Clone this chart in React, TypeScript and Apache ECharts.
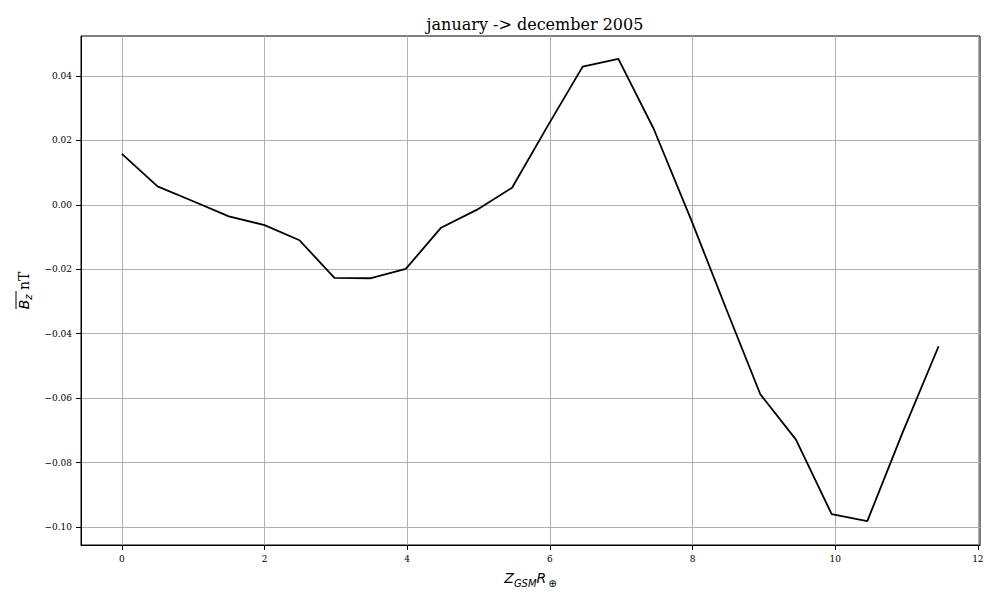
import { useEffect, useRef } from "react";
import * as echarts from "echarts";

// Z_GSM positions (R_E) and mean Bz (nT)
const zPos = [0, 0.5, 1.0, 1.5, 2.0, 2.49, 2.98, 3.48, 3.98, 4.475, 4.98, 5.47, 5.97, 6.46, 6.96, 7.455, 7.98, 8.47, 8.95, 9.45, 9.95, 10.45, 10.95, 11.45];
const bzMean = [0.0158, 0.0057, 0.0011, -0.0036, -0.0063, -0.011, -0.0227, -0.0228, -0.0199, -0.0071, -0.0015, 0.0053, 0.0245, 0.0429, 0.0453, 0.0236, -0.0046, -0.0322, -0.0588, -0.0729, -0.096, -0.0982, -0.0704, -0.0439];

const xTicks = [0, 2, 4, 6, 8, 10, 12];
const yTicks = [-0.1, -0.08, -0.06, -0.04, -0.02, 0, 0.02, 0.04];

const SERIF = "DejaVu Serif";
const SANS = "DejaVu Sans";
const GRID = "#b0b0b0";

export default function App() {
  const ref = useRef<HTMLDivElement>(null);

  useEffect(() => {
    if (!ref.current) return;
    const chart = echarts.init(ref.current, null, { renderer: "svg" });

    chart.setOption({
      animation: false,
      backgroundColor: "#ffffff",
      title: {
        text: "january -> december 2005",
        left: 530, top: 11, textAlign: "center",
        textStyle: { fontFamily: SERIF, fontSize: 16, fontWeight: "normal", color: "#000" },
      },
      grid: {
        left: 81, right: 20, top: 36, bottom: 55,
        show: true, borderColor: "#000", borderWidth: 1, backgroundColor: "transparent",
      },
      xAxis: {
        type: "value", min: -0.573, max: 12.03,
        name: "{z|Z}{s|GSM}{z|R}{o|⊕}",
        nameLocation: "middle", nameGap: 22,
        nameTextStyle: {
          rich: {
            z: { fontFamily: SANS, fontStyle: "italic", fontSize: 14, color: "#000", lineHeight: 18, verticalAlign: "bottom" },
            s: { fontFamily: SANS, fontStyle: "italic", fontSize: 10, color: "#000", lineHeight: 18, verticalAlign: "bottom", padding: [0, 0, -3, 0] },
            o: { fontFamily: SANS, fontSize: 10, color: "#000", lineHeight: 18, verticalAlign: "bottom", padding: [0, 0, -3, 2] },
          },
        },
        axisLine: { show: true, onZero: false, lineStyle: { color: "#000", width: 1 } },
        axisTick: { show: true, inside: false, length: 5, customValues: xTicks, lineStyle: { color: "#000" } },
        axisLabel: { customValues: xTicks, margin: 9, fontFamily: SERIF, fontSize: 9, color: "#000", formatter: (v: number) => String(v) },
        splitLine: { show: true, lineStyle: { color: GRID, width: 1 } },
      },
      yAxis: {
        type: "value", min: -0.1056, max: 0.0524,
        name: "{b|B}{s|z}{n| nT}",
        nameLocation: "middle", nameRotate: 90, nameGap: 50,
        nameTextStyle: {
          rich: {
            b: { fontFamily: SANS, fontStyle: "italic", fontSize: 14, color: "#000", lineHeight: 18, verticalAlign: "bottom" },
            s: { fontFamily: SANS, fontStyle: "italic", fontSize: 10, color: "#000", lineHeight: 18, verticalAlign: "bottom", padding: [0, 0, -3, 0] },
            n: { fontFamily: SERIF, fontSize: 14, color: "#000", lineHeight: 18, verticalAlign: "bottom" },
          },
        },
        axisLine: { show: true, onZero: false, lineStyle: { color: "#000", width: 1 } },
        axisTick: { show: true, inside: false, length: 5, customValues: yTicks, lineStyle: { color: "#000" } },
        axisLabel: {
          customValues: yTicks, margin: 9, fontFamily: SERIF, fontSize: 9, color: "#000",
          formatter: (v: number) => v.toFixed(2).replace("-", "\u2212"),
        },
        splitLine: { show: true, lineStyle: { color: GRID, width: 1 } },
      },
      graphic: [
        // overline over B_z in the rotated y label
        { type: "line", shape: { x1: 16, y1: 291, x2: 16, y2: 309 }, style: { stroke: "#000", lineWidth: 1 } },
      ],
      series: [
        {
          type: "line",
          data: zPos.map((z, i) => [z, bzMean[i]]),
          symbol: "none",
          lineStyle: { color: "#000", width: 1.8 },
          itemStyle: { color: "#000" },
        },
      ],
    });

    return () => chart.dispose();
  }, []);

  return <div ref={ref} style={{ position: "fixed", left: 0, top: 0, width: 1000, height: 600 }} />;
}
